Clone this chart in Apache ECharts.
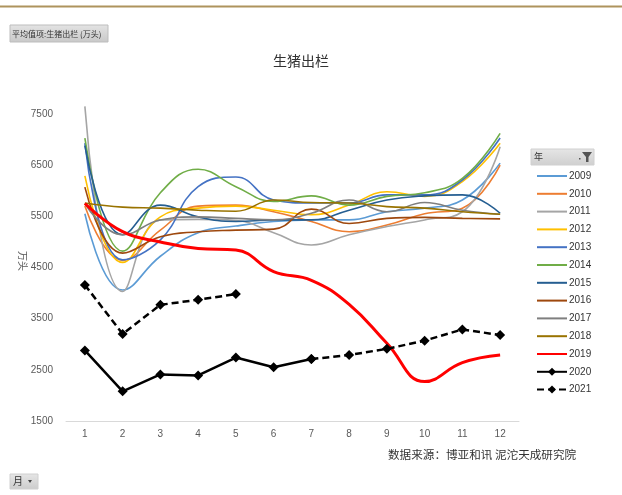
<!DOCTYPE html>
<html>
<head>
<meta charset="utf-8">
<script src="https://cdn.jsdelivr.net/npm/echarts@6/dist/echarts.min.js"></script>
<style>html,body{margin:0;padding:0;background:#fff;}#c{width:622px;height:495px;}</style>
</head>
<body>
<div id="c"></div>
<script>
var months = ['1','2','3','4','5','6','7','8','9','10','11','12'];
var yTicks = [1500, 2500, 3500, 4500, 5500, 6500, 7500];
var years = ['2009','2010','2011','2012','2013','2014','2015','2016','2017','2018','2019','2020','2021'];
var y2009 = [5550, 4060, 4720, 5180, 5310, 5400, 5430, 5430, 5590, 5660, 5820, 6540];
var y2010 = [5700, 4640, 5230, 5700, 5720, 5590, 5400, 5200, 5330, 5550, 5660, 6500];
var y2011 = [7650, 4030, 5430, 5440, 5420, 5180, 4940, 5140, 5300, 5430, 5590, 6860];
var y2012 = [6290, 4600, 5490, 5660, 5700, 5620, 5530, 5720, 5980, 5890, 6180, 6930];
var y2013 = [6930, 4650, 5040, 6080, 6270, 5820, 5760, 5760, 5920, 5920, 6210, 7030];
var y2014 = [7030, 4820, 5960, 6420, 6080, 5790, 5900, 5720, 5890, 5960, 6240, 7120];
var y2015 = [6880, 5140, 5720, 5490, 5400, 5430, 5430, 5620, 5820, 5900, 5920, 5560];
var y2016 = [6070, 4780, 5100, 5200, 5230, 5250, 5640, 5360, 5460, 5480, 5460, 5450];
var y2017 = [5750, 5140, 5430, 5490, 5460, 5430, 5560, 5820, 5590, 5770, 5620, 5540];
var y2018 = [5760, 5680, 5660, 5620, 5600, 5820, 5770, 5760, 5690, 5660, 5590, 5540];
var y2019 = [5750, 5200, 5000, 4870, 4840, 4420, 4250, 3780, 3020, 2270, 2640, 2790];
var y2020 = [2880, 2080, 2410, 2390, 2740, 2550, 2710, null, null, null, null, null];
var y2021 = [4160, 3200, 3770, 3870, 3980, null, 2710, 2790, 2910, 3070, 3290, 3180];

var seriesData = [y2009,y2010,y2011,y2012,y2013,y2014,y2015,y2016,y2017,y2018,y2019,y2020,y2021];
var colors = ['#5b9bd5','#ed7d31','#a5a5a5','#ffc000','#4472c4','#70ad47','#255e91','#9e480e','#7f7f7f','#997300','#ff0000','#000000','#000000'];

var series = years.map(function(y, i){
  var s = {
    name: y, type: 'line', data: seriesData[i], clip: false,
    smooth: 0.45, symbol: 'none',
    lineStyle: {color: colors[i], width: 1.6},
    itemStyle: {color: colors[i]},
    z: 2
  };
  if (y === '2019') { s.lineStyle.width = 3; s.z = 3; }
  if (y === '2020' || y === '2021') {
    s.smooth = false; s.symbol = 'diamond'; s.symbolSize = 10; s.showSymbol = true;
    s.lineStyle.width = 2.5; s.z = 4;
    s.connectNulls = false;
    if (y === '2021') s.lineStyle.type = [7, 4];
  }
  return s;
});

var legendData = years.map(function(y){
  if (y === '2020' || y === '2021') return {name: y};
  return {name: y, itemStyle: {opacity: 0}};
});

var chart = echarts.init(document.getElementById('c'), null, {renderer: 'canvas'});
chart.setOption({
  animation: false,
  backgroundColor: '#ffffff',
  color: colors,
  grid: {left: 66, right: 103, top: 114, bottom: 74, containLabel: false},
  xAxis: {
    type: 'category', data: months, boundaryGap: true,
    axisLine: {lineStyle: {color: '#d9d9d9', width: 1}},
    axisTick: {show: false},
    axisLabel: {color: '#595959', fontSize: 10, margin: 8, fontFamily: 'Liberation Sans'}
  },
  yAxis: {
    type: 'value', min: yTicks[0], max: yTicks[yTicks.length-1], interval: 1000,
    axisLine: {show: false}, axisTick: {show: false},
    splitLine: {show: false},
    axisLabel: {color: '#595959', fontSize: 10, margin: 13, fontFamily: 'Liberation Sans',
      formatter: function(v){ return String(v); }}
  },
  legend: {
    orient: 'vertical', left: 536, top: 171, padding: 0,
    itemWidth: 30, itemHeight: 10, itemGap: 7.8,
    textStyle: {color: '#333', fontSize: 10, fontFamily: 'Liberation Sans', padding: [0,0,0,-3]},
    data: legendData
  },
  series: series,
  graphic: [
    {type: 'rect', shape: {x: 0, y: 5.5, width: 622, height: 2}, style: {fill: '#ae935d'}},
    {type: 'rect', shape: {x: 10, y: 25, width: 98, height: 17},
      style: {fill: new echarts.graphic.LinearGradient(0,0,0,1,[{offset:0,color:'#e4e4e4'},{offset:1,color:'#c8c8c8'}]), stroke: '#bdbdbd', lineWidth: 1}},
    {type: 'text', x: 12, y: 33.5, style: {text: '平均值项:生猪出栏 (万头)', fontSize: 8, fill: '#333', fontFamily: 'Noto Sans CJK SC', verticalAlign: 'middle'}},
    {type: 'text', x: 301, y: 61, style: {text: '生猪出栏', fontSize: 14, fill: '#333', fontFamily: 'Noto Sans CJK SC', align: 'center', verticalAlign: 'middle'}},
    {type: 'text', x: 23, y: 261, rotation: -Math.PI/2, style: {text: '万头', fontSize: 10, fill: '#595959', fontFamily: 'Noto Sans CJK SC', align: 'center', verticalAlign: 'middle'}},
    {type: 'rect', shape: {x: 531, y: 149, width: 63, height: 16},
      style: {fill: new echarts.graphic.LinearGradient(0,0,0,1,[{offset:0,color:'#e6e6e6'},{offset:1,color:'#cfcfcf'}]), stroke: '#d0d0d0', lineWidth: 1}},
    {type: 'text', x: 534, y: 157, style: {text: '年', fontSize: 9, fill: '#333', fontFamily: 'Noto Sans CJK SC', verticalAlign: 'middle'}},
    {type: 'polygon', shape: {points: [[582,152],[592,152],[588.5,157],[588.5,162],[586,162],[586,157]]}, style: {fill: '#555'}},
    {type: 'rect', shape: {x: 579, y: 158, width: 1.5, height: 1.5}, style: {fill: '#555'}},
    {type: 'text', x: 388, y: 455, style: {text: '数据来源：博亚和讯 泥沱天成研究院', fontSize: 11.6, fill: '#333', fontFamily: 'Noto Sans CJK SC', verticalAlign: 'middle'}},
    {type: 'rect', shape: {x: 10, y: 474, width: 28, height: 15},
      style: {fill: new echarts.graphic.LinearGradient(0,0,0,1,[{offset:0,color:'#e6e6e6'},{offset:1,color:'#cccccc'}]), stroke: '#d0d0d0', lineWidth: 1}},
    {type: 'text', x: 13, y: 481.5, style: {text: '月', fontSize: 10, fill: '#333', fontFamily: 'Noto Sans CJK SC', verticalAlign: 'middle'}},
    {type: 'polygon', shape: {points: [[28,480],[32,480],[30,483]]}, style: {fill: '#444'}}
  ]
});
</script>
</body>
</html>
